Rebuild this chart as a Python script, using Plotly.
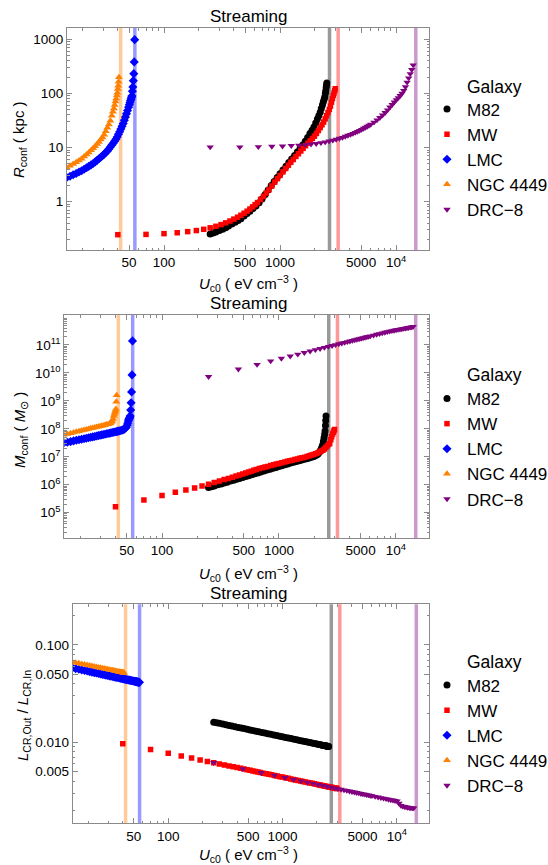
import plotly.graph_objects as go

# ---------------- data ----------------
GALAXIES = ["M82", "MW", "LMC", "NGC 4449", "DRC\u22128"]

# cut-off energy density of each galaxy (vertical bands)
U_CUT = [2670, 3170, 56.1, 42.3, 14800]

M82_U = [250, 265, 280, 300, 320, 340, 360, 385, 410, 435, 460, 490, 520, 550, 585, 620, 660, 700,
         745, 790, 840, 890, 945, 1000, 1060, 1125, 1190, 1260, 1335, 1410, 1490, 1570, 1650, 1730,
         1810, 1890, 1960, 2030, 2100, 2160, 2220, 2270, 2320, 2360, 2400, 2430, 2460, 2480, 2500,
         2515, 2530]
M82_R = [0.252, 0.264, 0.276, 0.292, 0.308, 0.330, 0.355, 0.385, 0.418, 0.449, 0.485, 0.542, 0.604,
         0.666, 0.744, 0.83, 0.95, 1.12, 1.36, 1.64, 1.98, 2.36, 2.80, 3.29, 3.84, 4.51, 5.26, 6.11,
         7.14, 8.3, 9.66, 11.1, 13.1, 15.4, 18.1, 20.8, 24.0, 28.4, 33.6, 38.5, 44.8, 52.7, 61.1,
         69.7, 78, 86, 101, 112, 129, 141, 155]
M82_M = [7.9e5, 8.5e5, 9.1e5, 9.9e5, 1.07e6, 1.15e6, 1.24e6, 1.35e6, 1.46e6, 1.57e6, 1.69e6, 1.83e6,
         1.97e6, 2.11e6, 2.29e6, 2.45e6, 2.66e6, 2.86e6, 3.09e6, 3.34e6, 3.6e6, 3.87e6, 4.17e6,
         4.49e6, 4.82e6, 5.19e6, 5.57e6, 5.96e6, 6.38e6, 6.79e6, 7.24e6, 7.67e6, 8.09e6, 8.51e6,
         9.0e6, 9.55e6, 1.01e7, 1.07e7, 1.15e7, 1.26e7, 1.45e7, 1.7e7, 2.1e7, 2.6e7, 3.5e7, 4.7e7,
         6.3e7, 8.3e7, 1.32e8, 2.0e8, 2.9e8]
M82_L = [0.01611, 0.01588, 0.01566, 0.01539, 0.01515, 0.01492, 0.01471, 0.01446, 0.01423, 0.01403,
         0.01384, 0.01362, 0.01342, 0.01323, 0.01303, 0.01285, 0.01264, 0.01247, 0.01227, 0.01209,
         0.01191, 0.01174, 0.01157, 0.0114, 0.01124, 0.01107, 0.01092, 0.01077, 0.01062, 0.01047,
         0.01033, 0.01019, 0.01007, 0.00995, 0.00984, 0.00974, 0.00965, 0.00957, 0.00948, 0.00942,
         0.00935, 0.0093, 0.00925, 0.00921, 0.00917, 0.00914, 0.00911, 0.0091, 0.00908, 0.00906,
         0.00905]

MW_U = [40, 70, 100, 130, 160, 190, 220, 250, 280, 310, 340, 370, 400, 430, 460, 490, 520, 550, 580,
        610, 640, 680, 720, 760, 800, 850, 900, 950, 1000, 1060, 1120, 1180, 1240, 1300, 1370, 1440,
        1510, 1580, 1660, 1740, 1820, 1900, 1980, 2060, 2140, 2220, 2300, 2380, 2450, 2520, 2590,
        2660, 2720, 2780, 2830, 2880, 2920, 2960, 2990]
MW_R = [0.245, 0.248, 0.256, 0.266, 0.279, 0.292, 0.308, 0.328, 0.35, 0.376, 0.405, 0.438, 0.475,
        0.515, 0.56, 0.61, 0.665, 0.73, 0.80, 0.88, 0.96, 1.10, 1.25, 1.44, 1.65, 1.95, 2.3, 2.66,
        3.05, 3.55, 4.1, 4.71, 5.35, 6.01, 6.83, 7.68, 8.63, 9.64, 10.8, 12.0, 13.3, 14.7, 16.2,
        18.2, 20.6, 23.3, 26.3, 29.6, 33.9, 38.7, 44.2, 50.5, 58.2, 69, 80.3, 91.7, 102, 112, 122]
MW_M = [1.64e5, 2.85e5, 4.1e5, 5.4e5, 6.45e5, 7.7e5, 9.0e5, 1.05e6, 1.2e6, 1.36e6, 1.53e6, 1.69e6,
        1.87e6, 2.04e6, 2.22e6, 2.42e6, 2.63e6, 2.84e6, 3.06e6, 3.29e6, 3.52e6, 3.78e6, 4.03e6,
        4.29e6, 4.54e6, 4.86e6, 5.18e6, 5.48e6, 5.78e6, 6.15e6, 6.52e6, 6.89e6, 7.24e6, 7.6e6,
        8.0e6, 8.39e6, 8.79e6, 9.2e6, 9.64e6, 1.02e7, 1.08e7, 1.15e7, 1.22e7, 1.29e7, 1.37e7,
        1.48e7, 1.6e7, 1.71e7, 1.9e7, 2.15e7, 2.43e7, 2.74e7, 3.02e7, 4.04e7, 5.2e7, 6.5e7, 7.6e7,
        8.6e7, 9.5e7]
MW_L = [0.00968, 0.00844, 0.00773, 0.00724, 0.00689, 0.0066, 0.00637, 0.00617, 0.006, 0.00585,
        0.00572, 0.0056, 0.0055, 0.0054, 0.00531, 0.00523, 0.00515, 0.00508, 0.00502, 0.00495,
        0.0049, 0.00482, 0.00476, 0.00469, 0.00463, 0.00457, 0.0045, 0.00444, 0.00439, 0.00433,
        0.00427, 0.00421, 0.00416, 0.00411, 0.00406, 0.00401, 0.00396, 0.00392, 0.00387, 0.00383,
        0.00379, 0.00375, 0.00371, 0.00367, 0.00364, 0.00361, 0.00357, 0.00354, 0.00352, 0.00349,
        0.00347, 0.00345, 0.00343, 0.00341, 0.0034, 0.00338, 0.00337, 0.00336, 0.00335]

LMC_U = [14.5, 15.5, 16.5, 17.5, 18.5, 19.5, 20.5, 21.5, 22.5, 23.5, 24.5, 25.5, 26.5, 27.5, 28.5,
         29.5, 30.5, 31.5, 32.5, 33.5, 34.5, 35.5, 36.5, 37.5, 38.5, 39.5, 40.5, 41.5, 42.5, 43.5,
         44.5, 45.5, 46.5, 47.5, 48.5, 49.5, 50.3, 50.9, 51.5, 52.0, 52.5, 52.9, 53.4, 53.9, 54.4,
         54.9, 55.4, 55.9]
LMC_R = [2.78, 2.95, 3.13, 3.31, 3.52, 3.73, 3.97, 4.23, 4.49, 4.77, 5.07, 5.42, 5.79, 6.19, 6.61,
         7.06, 7.54, 8.07, 8.67, 9.42, 10.2, 11.1, 12.0, 13.1, 14.2, 15.6, 17.5, 19.6, 22.0, 24.7,
         27.7, 31.8, 36.5, 42.0, 48.2, 55.5, 62, 68, 74, 79, 85, 90, 110, 131, 172, 232, 382, 986]
LMC_M = [3.16e7, 3.31e7, 3.5e7, 3.7e7, 3.9e7, 4.07e7, 4.27e7, 4.45e7, 4.62e7, 4.81e7, 4.99e7,
         5.16e7, 5.35e7, 5.53e7, 5.71e7, 5.89e7, 6.08e7, 6.27e7, 6.44e7, 6.64e7, 6.82e7, 7.0e7,
         7.19e7, 7.38e7, 7.57e7, 7.74e7, 7.94e7, 8.13e7, 8.32e7, 8.51e7, 8.75e7, 9.0e7, 9.33e7,
         9.77e7, 1.05e8, 1.15e8, 1.35e8, 1.58e8, 1.9e8, 2.14e8, 2.34e8, 2.57e8, 2.9e8, 4.7e8,
         8.6e8, 2.1e9, 8.5e9, 1.4e11]
LMC_L = [0.05815, 0.05718, 0.05628, 0.05546, 0.05468, 0.05396, 0.05328, 0.05265, 0.05204, 0.05147,
         0.05093, 0.05041, 0.04993, 0.04946, 0.04902, 0.04859, 0.04818, 0.04779, 0.04741, 0.04705,
         0.0467, 0.04636, 0.04604, 0.04573, 0.04542, 0.04513, 0.04484, 0.04457, 0.04429, 0.04404,
         0.04379, 0.04355, 0.04331, 0.04307, 0.04285, 0.04263, 0.04246, 0.04233, 0.0422, 0.0421,
         0.042, 0.04191, 0.04181, 0.04172, 0.04162, 0.04152, 0.04143, 0.04133]

NGC_U = [14.5, 15.5, 16.5, 17.5, 18.5, 19.5, 20.5, 21.5, 22.5, 23.5, 24.5, 25.5, 26.5, 27.5, 28.5,
         29.5, 30.5, 31.5, 32.5, 33.5, 34.5, 35.5, 36.3, 37.0, 37.6, 38.2, 38.7, 39.2, 39.6, 40.0,
         40.3, 40.6, 40.9]
NGC_R = [4.26, 4.58, 4.94, 5.32, 5.73, 6.22, 6.81, 7.43, 8.13, 8.89, 9.7, 10.6, 11.6, 12.7, 14.0,
         15.3, 17.2, 19.9, 23.1, 26.7, 31.3, 38.5, 45.6, 52.8, 61, 70.6, 79.8, 91.6, 103, 121, 139,
         164, 199]
NGC_M = [6.1e7, 6.55e7, 6.98e7, 7.4e7, 7.82e7, 8.24e7, 8.67e7, 9.08e7, 9.51e7, 9.93e7, 1.04e8,
         1.08e8, 1.12e8, 1.16e8, 1.2e8, 1.25e8, 1.29e8, 1.33e8, 1.37e8, 1.42e8, 1.46e8, 1.51e8,
         1.6e8, 1.75e8, 1.95e8, 2.3e8, 2.9e8, 3.4e8, 3.9e8, 4.4e8, 5.1e8, 9.3e8, 1.6e9]
NGC_L = [0.0669, 0.06585, 0.06486, 0.06393, 0.06307, 0.06226, 0.06151, 0.06079, 0.06012, 0.05949,
         0.05888, 0.05831, 0.05776, 0.05724, 0.05674, 0.05626, 0.05581, 0.05537, 0.05494, 0.05454,
         0.05415, 0.05376, 0.05346, 0.05321, 0.053, 0.05279, 0.05262, 0.05245, 0.05233, 0.0522,
         0.0521, 0.052, 0.05191]

DRC_U = [250, 450, 650, 850, 1050, 1250, 1450, 1650, 1850, 2050, 2250, 2450, 2650, 2850, 3050, 3250,
         3450, 3650, 3850, 4050, 4250, 4450, 4650, 4850, 5050, 5250, 5450, 5650, 5850, 6050, 6450,
         6850, 7250, 7650, 8050, 8450, 8850, 9250, 9650, 10050, 10450, 10850, 11250, 11650, 12050,
         12450, 12850, 13250, 13650, 14050]
DRC_R = [10.2, 10.2, 10.3, 10.45, 10.6, 10.8, 11.0, 11.2, 11.5, 11.8, 12.2, 12.6, 13.1, 13.6, 14.1,
         14.7, 15.3, 16.0, 16.7, 17.4, 18.1, 18.9, 19.7, 20.6, 21.5, 22.5, 23.5, 24.5, 25.6, 26.7,
         29.2, 32.2, 35.6, 39.5, 44, 49.2, 55.5, 62, 69, 76, 83, 91, 100, 113, 132, 160, 192, 230,
         275, 335]
DRC_M = [7.35e9, 1.36e10, 2.0e10, 2.65e10, 3.31e10, 3.98e10, 4.65e10, 5.32e10, 6.0e10, 6.7e10,
         7.38e10, 8.06e10, 8.75e10, 9.46e10, 1.01e11, 1.09e11, 1.16e11, 1.22e11, 1.3e11, 1.37e11,
         1.44e11, 1.51e11, 1.58e11, 1.65e11, 1.72e11, 1.79e11, 1.87e11, 1.94e11, 2.01e11, 2.08e11,
         2.23e11, 2.38e11, 2.52e11, 2.67e11, 2.81e11, 2.96e11, 3.1e11, 3.21e11, 3.33e11, 3.44e11,
         3.55e11, 3.65e11, 3.76e11, 3.86e11, 3.97e11, 4.07e11, 4.18e11, 4.28e11, 4.39e11, 4.5e11]
DRC_L = [0.00617, 0.00534, 0.00488, 0.00457, 0.00433, 0.00415, 0.004, 0.00388, 0.00377, 0.00367,
         0.00359, 0.00352, 0.00345, 0.00339, 0.00333, 0.00328, 0.00323, 0.00319, 0.00315, 0.00311,
         0.00307, 0.00304, 0.00301, 0.00297, 0.00294, 0.00292, 0.00289, 0.00287, 0.00284, 0.00282,
         0.00277, 0.00273, 0.00269, 0.00266, 0.00263, 0.00259, 0.00256, 0.00254, 0.00251, 0.00249,
         0.00236, 0.00224, 0.0022, 0.00218, 0.00216, 0.00214, 0.00213, 0.00212, 0.00211, 0.00211]

# tick labels
X_TICKS = [50, 100, 500, 1000, 5000, 10000]
X_TICKTEXT = ["50", "100", "500", "1000", "5000", "10<sup>4</sup>"]
X_MINOR = [20, 30, 40, 60, 70, 80, 90, 200, 300, 400, 600, 700, 800, 900,
           2000, 3000, 4000, 6000, 7000, 8000, 9000]
Y1_TICKS = [1, 10, 100, 1000]
Y1_TICKTEXT = ["1", "10", "100", "1000"]
Y1_MINOR = [0.2, 0.3, 0.4, 0.5, 0.6, 0.7, 0.8, 0.9, 2, 3, 4, 5, 6, 7, 8, 9,
            20, 30, 40, 50, 60, 70, 80, 90, 200, 300, 400, 500, 600, 700, 800, 900]
Y2_TICKS = [1e5, 1e6, 1e7, 1e8, 1e9, 1e10, 1e11]
Y2_TICKTEXT = ["10<sup>5</sup>", "10<sup>6</sup>", "10<sup>7</sup>", "10<sup>8</sup>",
               "10<sup>9</sup>", "10<sup>10</sup>", "10<sup>11</sup>"]
Y2_MINOR = [m * 10 ** e for e in range(4, 12) for m in (2, 3, 4, 5, 6, 7, 8, 9)]
Y3_TICKS = [0.005, 0.01, 0.05, 0.1]
Y3_TICKTEXT = ["0.005", "0.010", "0.050", "0.100"]
Y3_MINOR = [0.002, 0.003, 0.004, 0.006, 0.007, 0.008, 0.009, 0.02, 0.03, 0.04,
            0.06, 0.07, 0.08, 0.09, 0.2]

# ---------------- styling ----------------
FONT = "Liberation Sans, Arial, Helvetica, sans-serif"
COLORS = ["#000000", "#ff0000", "#0000ff", "#ff8000", "#800080"]
BAND_COLORS = ["rgba(0,0,0,0.4)", "rgba(255,0,0,0.4)", "rgba(0,0,255,0.4)",
               "rgba(255,128,0,0.4)", "rgba(128,0,128,0.4)"]
SYMBOLS = ["circle", "square", "diamond", "triangle-up", "triangle-down"]
SIZES = [7, 5.5, 7, 7, 6.5]
FRAME = "#8a8a8a"

W, H = 548, 865


def px_x(p):
    return p / W


def px_y(p):
    return 1 - p / H


U_LISTS = [M82_U, MW_U, LMC_U, NGC_U, DRC_U]
PANEL_VALUES = [
    [M82_R, MW_R, LMC_R, NGC_R, DRC_R],
    [M82_M, MW_M, LMC_M, NGC_M, DRC_M],
    [M82_L, MW_L, LMC_L, NGC_L, DRC_L],
]
LEGEND_IDS = ["legend", "legend2", "legend3"]

# panel geometry in pixels: (left, right, top, bottom)
PANEL_PX = [(67, 429, 28, 250), (64.3, 429, 315, 538), (72.7, 429.3, 604.3, 823.3)]
Y_RANGES = [[-0.894, 3.209], [4.095, 12.073], [-2.832, -0.582]]
X_RANGE = [1.164, 4.284]
Y_TICKSETS = [(Y1_TICKS, Y1_TICKTEXT, Y1_MINOR), (Y2_TICKS, Y2_TICKTEXT, Y2_MINOR),
              (Y3_TICKS, Y3_TICKTEXT, Y3_MINOR)]

fig = go.Figure()

for p in range(3):
    xa = "x" if p == 0 else f"x{p + 1}"
    ya = "y" if p == 0 else f"y{p + 1}"
    for g in range(5):
        fig.add_trace(go.Scatter(
            x=[U_CUT[g], U_CUT[g]], y=[1e-8, 1e15], mode="lines",
            line=dict(color=BAND_COLORS[g], width=3.5),
            xaxis=xa, yaxis=ya, showlegend=False, hoverinfo="skip"))
    for g in range(5):
        fig.add_trace(go.Scatter(
            x=U_LISTS[g], y=PANEL_VALUES[p][g], mode="markers", name=GALAXIES[g],
            marker=dict(symbol=SYMBOLS[g], color=COLORS[g], size=SIZES[g], line=dict(width=0)),
            xaxis=xa, yaxis=ya, legend=LEGEND_IDS[p]))

layout = dict(
    width=W, height=H, autosize=False,
    margin=dict(l=0, r=0, t=0, b=0, autoexpand=False),
    paper_bgcolor="white", plot_bgcolor="white",
    font=dict(family=FONT, color="black", size=14),
    showlegend=True,
)

for p in range(3):
    left, right, top, bottom = PANEL_PX[p]
    xkey = "xaxis" if p == 0 else f"xaxis{p + 1}"
    ykey = "yaxis" if p == 0 else f"yaxis{p + 1}"
    yname = "y" if p == 0 else f"y{p + 1}"
    xname = "x" if p == 0 else f"x{p + 1}"
    layout[xkey] = dict(
        type="log", range=X_RANGE, domain=[px_x(left), px_x(right)], anchor=yname,
        showline=True, linecolor=FRAME, linewidth=1, mirror="ticks",
        ticks="inside", ticklen=5, tickwidth=1, tickcolor=FRAME,
        tickmode="array", tickvals=X_TICKS, ticktext=X_TICKTEXT,
        tickfont=dict(size=13.5, family=FONT, color="black"),
        minor=dict(tickmode="array", tickvals=X_MINOR, ticks="inside", ticklen=2.5,
                   tickcolor=FRAME, tickwidth=1, showgrid=False),
        showgrid=False, zeroline=False,
    )
    tv, tt, mn = Y_TICKSETS[p]
    layout[ykey] = dict(
        type="log", range=Y_RANGES[p], domain=[px_y(bottom), px_y(top)], anchor=xname,
        showline=True, linecolor=FRAME, linewidth=1, mirror="ticks",
        ticks="inside", ticklen=5, tickwidth=1, tickcolor=FRAME,
        tickmode="array", tickvals=tv, ticktext=tt,
        tickfont=dict(size=13.5, family=FONT, color="black"),
        minor=dict(tickmode="array", tickvals=mn, ticks="inside", ticklen=2.5,
                   tickcolor=FRAME, tickwidth=1, showgrid=False),
        showgrid=False, zeroline=False,
    )

# legend title rows ("Galaxy") and legend top edges, in pixels
LEGEND_TITLE_Y = [87, 375, 661.7]
LEGEND_TOPS = [91.5, 381, 667.5]
for p in range(3):
    layout[LEGEND_IDS[p]] = dict(
        x=px_x(427), y=px_y(LEGEND_TOPS[p]), xanchor="left", yanchor="top",
        bgcolor="rgba(0,0,0,0)", borderwidth=0,
        font=dict(size=17, family=FONT, color="black"),
        itemsizing="trace", tracegroupgap=0,
    )

fig.update_layout(**layout)

# titles and axis labels
TITLE_Y = [16.7, 303.3, 593.3]
XLABEL_Y = [283, 573, 854]
YLABEL_POS = [(19, 140), (20, 430), (23, 716)]
YLABELS = ["<i>R</i><sub>conf</sub> ( kpc )",
           "<i>M</i><sub>conf</sub> ( <i>M</i><sub>\u2299</sub> )",
           "<i>L</i><sub>CR,Out</sub> / <i>L</i><sub>CR,In</sub>"]
XLABEL = "<i>U</i><sub>c0</sub> ( eV cm<sup>\u22123</sup> )"

for p in range(3):
    fig.add_annotation(text="Streaming", x=px_x(248), y=px_y(TITLE_Y[p]), xref="paper",
                       yref="paper", xanchor="center", yanchor="middle", showarrow=False,
                       font=dict(size=17, family=FONT, color="black"))
    fig.add_annotation(text=XLABEL, x=px_x(248), y=px_y(XLABEL_Y[p]), xref="paper",
                       yref="paper", xanchor="center", yanchor="middle", showarrow=False,
                       font=dict(size=15, family=FONT, color="black"))
    fig.add_annotation(text=YLABELS[p], x=px_x(YLABEL_POS[p][0]), y=px_y(YLABEL_POS[p][1]),
                       xref="paper", yref="paper", xanchor="center", yanchor="middle",
                       showarrow=False, textangle=-90,
                       font=dict(size=15, family=FONT, color="black"))
    fig.add_annotation(text="Galaxy", x=px_x(494), y=px_y(LEGEND_TITLE_Y[p]), xref="paper",
                       yref="paper", xanchor="center", yanchor="middle", showarrow=False,
                       font=dict(size=17.5, family=FONT, color="black"))

fig.write_html("out.html")
